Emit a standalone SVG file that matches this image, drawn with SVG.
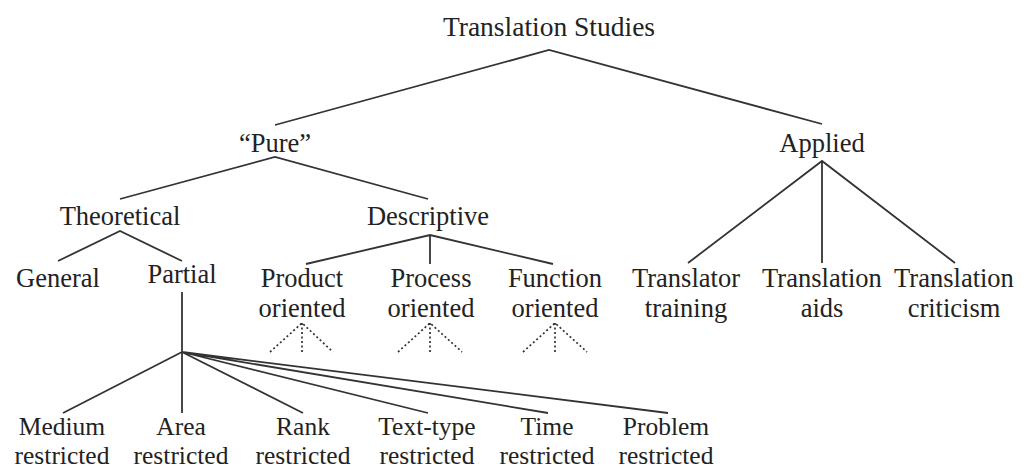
<svg xmlns="http://www.w3.org/2000/svg" width="1024" height="470" viewBox="0 0 1024 470">
<style>
text{font-family:"Liberation Serif","Times New Roman",serif;font-size:26.5px;fill:#222;text-anchor:middle}
.t{font-size:27.5px}
.b{font-size:25.5px}
.e{stroke:#333;stroke-width:1.8;fill:none}
.d{stroke:#333;stroke-width:1.7;fill:none;stroke-dasharray:2 2.5}
</style>
<rect width="1024" height="470" fill="#fff"/>
<g id="connectors">
<path class="e" d="M275,125 L549,50 L822,124"/>
<path class="e" d="M120,199 L275,157 L428,199"/>
<path class="e" d="M58,261 L120,231 L182,261"/>
<path class="e" d="M306,264 L430,235 L553,264 M430,235 L430,264"/>
<path class="e" d="M688,263 L822,161 L955,263 M822,161 L822,263"/>
<path class="e" d="M182,292 L182,413 M182,352 L63,413 M182,352 L303,413 M182,352 L428,413 M182,352 L548,413 M182,352 L668,413"/>
<path class="d" d="M270,352 L302,323 L333,352 M302,323 L302,352"/>
<path class="d" d="M398,352 L430,323 L462,352 M430,323 L430,352"/>
<path class="d" d="M523,352 L555,323 L587,352 M555,323 L555,352"/>
</g>
<g id="root"><text class="t" x="549" y="36">Translation Studies</text></g>
<g id="pure"><text x="275" y="152">“Pure”</text></g>
<g id="applied"><text x="822" y="152">Applied</text></g>
<g id="theoretical"><text x="120" y="225">Theoretical</text></g>
<g id="descriptive"><text x="428" y="225">Descriptive</text></g>
<g id="general"><text x="58" y="287">General</text></g>
<g id="partial"><text x="182" y="283">Partial</text></g>
<g id="product"><text x="302" y="287">Product</text><text x="302" y="317">oriented</text></g>
<g id="process"><text x="431" y="287">Process</text><text x="431" y="317">oriented</text></g>
<g id="function"><text x="555" y="287">Function</text><text x="555" y="317">oriented</text></g>
<g id="training"><text x="686" y="287">Translator</text><text x="686" y="317">training</text></g>
<g id="aids"><text x="822" y="287">Translation</text><text x="822" y="317">aids</text></g>
<g id="criticism"><text x="954" y="287">Translation</text><text x="954" y="317">criticism</text></g>
<g id="medium"><text class="b" x="62" y="435">Medium</text><text class="b" x="62" y="464">restricted</text></g>
<g id="area"><text class="b" x="181" y="435">Area</text><text class="b" x="181" y="464">restricted</text></g>
<g id="rank"><text class="b" x="303" y="435">Rank</text><text class="b" x="303" y="464">restricted</text></g>
<g id="texttype"><text class="b" x="427" y="435">Text-type</text><text class="b" x="427" y="464">restricted</text></g>
<g id="time"><text class="b" x="547" y="435">Time</text><text class="b" x="547" y="464">restricted</text></g>
<g id="problem"><text class="b" x="666" y="435">Problem</text><text class="b" x="666" y="464">restricted</text></g>
</svg>
